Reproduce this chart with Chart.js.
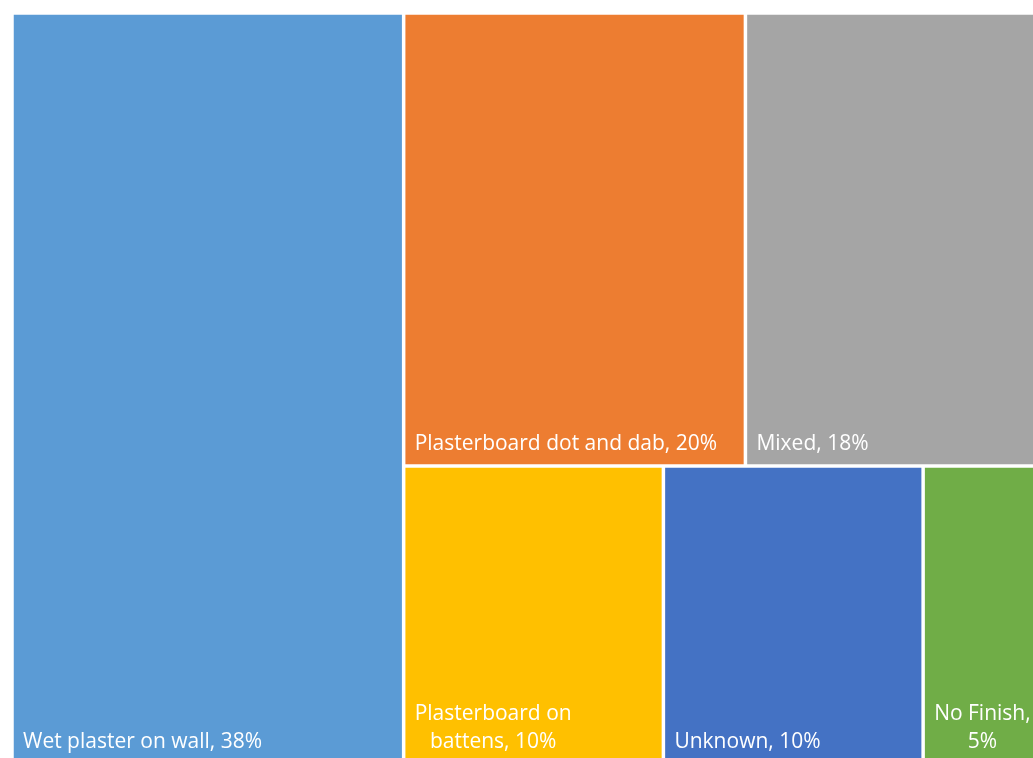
<!DOCTYPE html>
<html>
<head>
<meta charset="utf-8">
<title>Wall finish treemap</title>
<script src="https://cdn.jsdelivr.net/npm/chart.js@4.4.1/dist/chart.umd.min.js"></script>
<style>
    html, body { margin: 0; padding: 0; background: #ffffff; overflow: hidden; }
    #wrap { position: relative; width: 1064px; height: 780px; }
</style>
</head>
<body>
<div id="wrap"><canvas id="finishChart"></canvas></div>
<script>
const categories = ["Wet plaster on wall", "Plasterboard dot and dab", "Mixed", "Plasterboard on battens", "Unknown", "No Finish"];
const shares = [38, 20, 18, 10, 10, 5];

const palette = ["#5b9bd5", "#ed7d31", "#a5a5a5", "#ffc000", "#4472c4", "#70ad47"];

document.addEventListener("DOMContentLoaded", function()
{
    function sum(arr)
    {
        return arr.reduce(function(a, b) { return a + b; }, 0);
    }

    // worst aspect ratio of a row laid along a side of given length
    function worst(row, side)
    {
        const s = sum(row);
        const max = Math.max.apply(null, row);
        const min = Math.min.apply(null, row);
        return Math.max(side * side * max / (s * s), (s * s) / (side * side * min));
    }

    // squarified layout, returns pixel rects in input order
    function squarify(values, x, y, w, h)
    {
        const scale = w * h / sum(values);
        const areas = values.map(function(v) { return v * scale; });
        const rects = [];
        let i = 0;
        while (i < areas.length)
        {
            const side = Math.min(w, h);
            const row = [areas[i]];
            let j = i + 1;
            while (j < areas.length && worst(row.concat(areas[j]), side) <= worst(row, side))
            {
                row.push(areas[j]);
                j++;
            }
            const rowSum = sum(row);
            if (w >= h)
            {
                const cw = rowSum / h;
                let cy = y;
                row.forEach(function(a)
                {
                    const rh = a / cw;
                    rects.push({ x: x, y: cy, w: cw, h: rh });
                    cy += rh;
                });
                x += cw;
                w -= cw;
            }
            else
            {
                const rh = rowSum / w;
                let cx = x;
                row.forEach(function(a)
                {
                    const rw = a / rh;
                    rects.push({ x: cx, y: y, w: rw, h: rh });
                    cx += rw;
                });
                y += rh;
                h -= rh;
            }
            i = j;
        }
        return rects;
    }

    class TreemapController extends Chart.DatasetController
    {
        parse(start, count)
        {
            this._cachedMeta._parsed = this.getDataset().data.slice();
        }

        update(mode)
        {
            const meta = this._cachedMeta;
            this.updateElements(meta.data, 0, meta.data.length, mode);
        }

        updateElements(rects, start, count, mode)
        {
            const meta = this._cachedMeta;
            const xs = meta.xScale;
            const ys = meta.yScale;
            const left = xs.getPixelForValue(xs.min);
            const right = xs.getPixelForValue(xs.max);
            const top = ys.getPixelForValue(ys.max);
            const bottom = ys.getPixelForValue(ys.min);

            const boxes = squarify(this.getDataset().data, left, top, right - left, bottom - top);
            this._boxes = boxes;

            for (let i = start; i < start + count; i++)
            {
                const b = boxes[i];
                this.updateElement(rects[i], i,
                {
                    x: b.x + b.w / 2,
                    y: b.y,
                    base: b.y + b.h,
                    width: b.w,
                    height: b.h,
                    horizontal: false,
                    borderSkipped: {},
                    inflateAmount: 0,
                    options: this.resolveDataElementOptions(i, mode)
                }, mode);
            }
        }

        draw()
        {
            super.draw();

            const ctx = this._ctx;
            const ds = this.getDataset();
            const boxes = this._boxes || [];
            const pad = 11;
            const lineH = 28;

            ctx.save();
            ctx.font = ds.labelFont;
            ctx.fillStyle = ds.labelColor;
            ctx.textBaseline = "alphabetic";
            ctx.textAlign = "left";

            boxes.forEach(function(b, i)
            {
                const text = ds.labels[i];
                const avail = b.w - pad * 2;

                // greedy word wrap
                const words = text.split(" ");
                const lines = [];
                let cur = "";
                words.forEach(function(word)
                {
                    const test = cur ? cur + " " + word : word;
                    if (cur && ctx.measureText(test).width > avail)
                    {
                        lines.push(cur);
                        cur = word;
                    }
                    else
                    {
                        cur = test;
                    }
                });
                lines.push(cur);

                const widths = lines.map(function(l) { return ctx.measureText(l).width; });
                const blockW = Math.max.apply(null, widths);
                const baseY = b.y + b.h - 16;

                lines.forEach(function(l, k)
                {
                    const ly = baseY - (lines.length - 1 - k) * lineH;
                    ctx.fillText(l, b.x + pad + (blockW - widths[k]) / 2, ly);
                });
            });
            ctx.restore();
        }
    }
    TreemapController.id = "treemap";
    TreemapController.defaults = { datasetElementType: false, dataElementType: "bar" };
    Chart.register(TreemapController);

    const ctx = document.getElementById("finishChart").getContext("2d");

    new Chart(ctx,
    {
        type: "treemap",
        data:
        {
            labels: categories,
            datasets: [
                {
                    data: shares,
                    labels: categories.map(function(c, i) { return c + ", " + shares[i] + "%"; }),
                    backgroundColor: palette,
                    borderColor: "#ffffff",
                    borderWidth: 1.75,
                    labelFont: "21px 'Open Sans'",
                    labelColor: "#ffffff"
                }
            ]
        },
        options:
        {
            responsive: true,
            maintainAspectRatio: false,
            animation: false,
            events: [],
            layout: { padding: { left: 12, top: 13, right: 11, bottom: 16 } },
            plugins:
            {
                legend: { display: false },
                tooltip: { enabled: false }
            },
            scales:
            {
                x: { type: "linear", min: 0, max: 100, display: false },
                y: { type: "linear", min: 0, max: 100, display: false }
            }
        }
    });
});
</script>
</body>
</html>
